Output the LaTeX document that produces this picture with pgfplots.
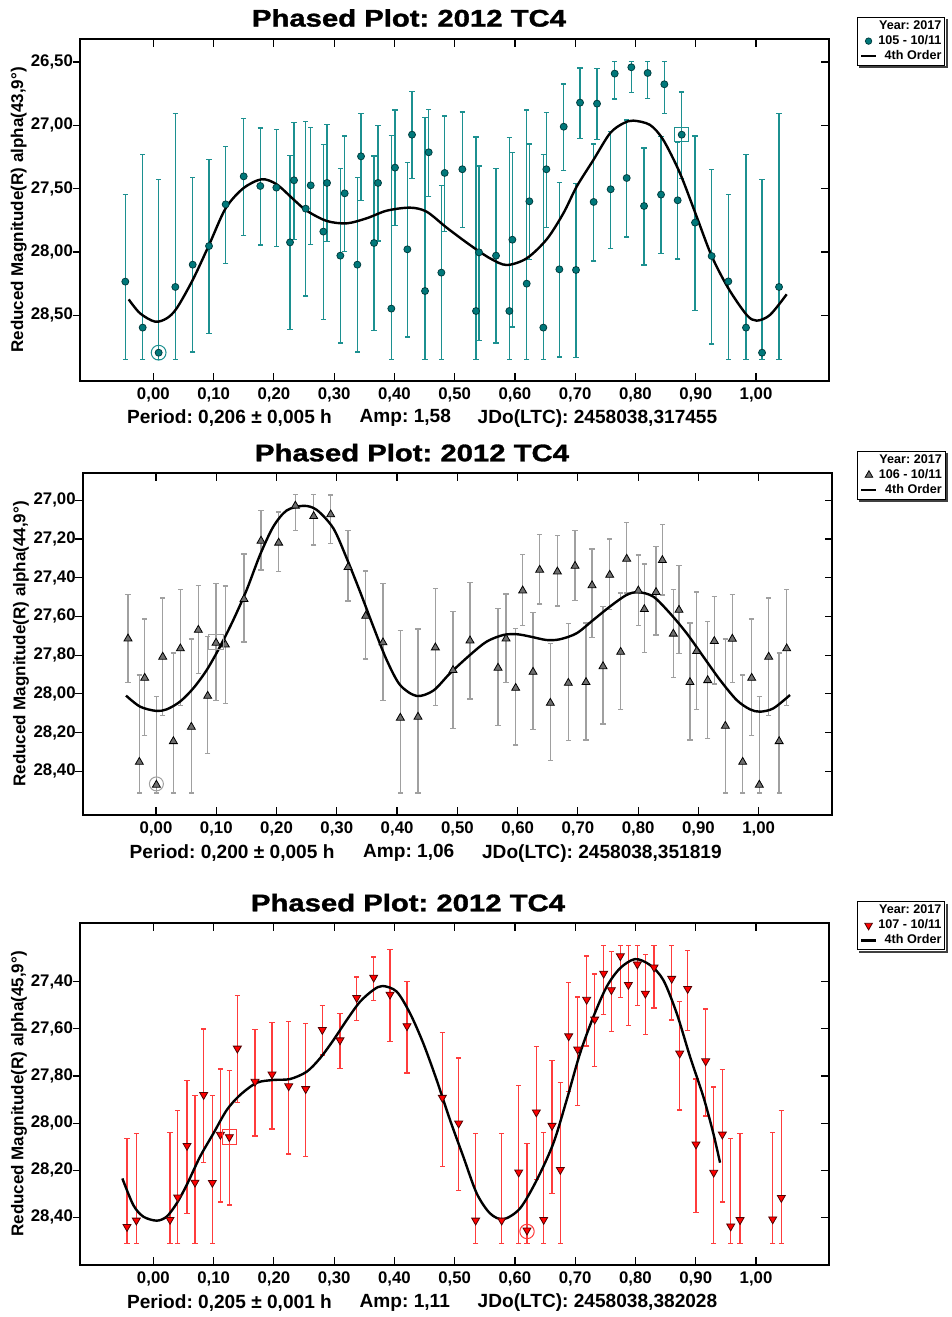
\documentclass[border=0pt]{standalone}
\usepackage{pgfplots}
\pgfplotsset{compat=1.18}
\usepackage{pgfplotstable}
\usepackage{graphicx}
\usepackage{fontspec}
\setmainfont{Liberation Sans}
\newfontfamily\titlefont{Liberation Sans}[BoldFeatures={FakeBold=1.3}]
\frenchspacing
\definecolor{tealM}{HTML}{00787A}
\definecolor{tealD}{HTML}{003F40}
\definecolor{tealE}{HTML}{1C9090}
\definecolor{grayM}{HTML}{6E6E6E}
\definecolor{grayE}{HTML}{A0A0A0}
\definecolor{redM}{HTML}{FF0000}
\definecolor{redD}{HTML}{500000}
\definecolor{redE}{HTML}{FF3C3C}

\pgfplotstableread{
x y t b
-0.0465 28.234 27.545 28.847
-0.0177 28.597 27.229 28.847
0.0088 28.795 27.426 28.847
0.0365 28.276 26.905 28.847
0.0653 28.100 27.413 28.789
0.0924 27.953 27.268 28.645
0.1200 27.624 27.166 28.089
0.1499 27.403 26.945 27.868
0.1775 27.479 27.021 27.945
0.2041 27.492 27.032 27.958
0.2268 27.924 27.237 28.613
0.2334 27.434 26.979 27.900
0.2528 27.658 26.971 28.347
0.2611 27.474 27.016 27.939
0.2821 27.839 27.153 28.532
0.2882 27.455 26.995 27.918
0.3103 28.029 27.342 28.718
0.3175 27.537 27.084 27.995
0.3385 28.100 27.411 28.789
0.3446 27.245 26.905 27.592
0.3662 27.929 27.242 28.621
0.3728 27.455 27.000 27.913
0.3949 28.447 27.079 28.847
0.4010 27.334 26.879 27.792
0.4215 27.979 27.292 28.671
0.4292 27.074 26.734 27.418
0.4508 28.308 26.937 28.847
0.4569 27.213 26.874 27.561
0.4779 28.163 27.476 28.847
0.4834 27.376 26.926 27.837
0.5127 27.347 26.895 27.805
0.5354 28.466 27.092 28.847
0.5404 28.003 27.321 28.700
0.5686 28.029 27.342 28.718
0.5907 28.466 27.095 28.847
0.5957 27.903 27.216 28.592
0.6195 28.250 26.879 28.847
0.6239 27.600 27.147 28.058
0.6471 28.597 27.229 28.847
0.6521 27.347 26.897 27.805
0.6737 28.137 27.450 28.829
0.6809 27.011 26.674 27.355
0.7013 28.142 27.458 28.834
0.7080 26.821 26.547 27.103
0.7306 27.605 27.147 28.071
0.7362 26.829 26.553 27.111
0.7588 27.505 27.050 27.971
0.7655 26.592 26.497 26.792
0.7854 27.416 26.958 27.882
0.7931 26.542 26.497 26.742
0.8142 27.637 27.179 28.103
0.8202 26.587 26.497 26.787
0.8424 27.547 27.089 28.013
0.8479 26.676 26.497 26.905
0.8700 27.592 27.137 28.055
0.8767 27.074 26.737 27.418
0.8988 27.768 27.084 28.461
0.9264 28.032 27.350 28.726
0.9541 28.232 27.545 28.847
0.9834 28.597 27.229 28.847
1.0100 28.795 27.426 28.847
1.0382 28.276 26.905 28.847
}\dataA

\pgfplotstableread{
x y
-0.0409 28.374
-0.0221 28.484
0.0028 28.550
0.0221 28.524
0.0387 28.445
0.0653 28.221
0.0924 27.945
0.1200 27.655
0.1493 27.497
0.1798 27.426
0.2046 27.466
0.2323 27.584
0.2544 27.674
0.2876 27.755
0.3208 27.774
0.3540 27.734
0.3872 27.674
0.4259 27.650
0.4535 27.682
0.4867 27.808
0.5254 27.945
0.5586 28.050
0.5863 28.103
0.6195 28.050
0.6527 27.900
0.6803 27.695
0.7024 27.484
0.7301 27.274
0.7577 27.063
0.7799 26.984
0.7965 26.963
0.8241 26.997
0.8462 27.116
0.8739 27.379
0.9015 27.721
0.9264 28.032
0.9541 28.287
0.9845 28.497
1.0011 28.542
1.0232 28.497
1.0509 28.334
}\fitA

\pgfplotstableread{
x y t b
-0.0465 27.715 27.486 27.940
-0.0277 28.352 27.902 28.512
-0.0188 27.918 27.613 28.216
0.0006 28.470 28.014 28.512
0.0111 27.809 27.506 28.111
0.0288 28.245 27.790 28.512
0.0404 27.766 27.460 28.060
0.0586 28.171 27.716 28.512
0.0702 27.670 27.440 27.894
0.0857 28.011 27.704 28.307
0.0996 27.737 27.429 28.035
0.1150 27.746 27.443 28.049
0.1460 27.511 27.277 27.732
0.1742 27.210 27.053 27.360
0.2035 27.220 27.060 27.368
0.2312 27.029 26.972 27.155
0.2616 27.083 26.972 27.232
0.2898 27.074 26.974 27.224
0.3186 27.346 27.157 27.520
0.3479 27.598 27.365 27.820
0.3766 27.735 27.430 28.035
0.4054 28.124 27.672 28.512
0.4347 28.119 27.666 28.512
0.4635 27.761 27.455 28.059
0.4928 27.878 27.575 28.180
0.5210 27.725 27.424 28.026
0.5675 27.866 27.558 28.164
0.5808 27.715 27.485 27.940
0.5968 27.970 27.663 28.264
0.6084 27.467 27.280 27.646
0.6256 27.887 27.579 28.183
0.6366 27.360 27.176 27.537
0.6543 28.047 27.740 28.345
0.6660 27.369 27.183 27.546
0.6842 27.944 27.637 28.242
0.6953 27.340 27.155 27.517
0.7135 27.940 27.635 28.238
0.7235 27.440 27.253 27.710
0.7417 27.858 27.549 28.155
0.7528 27.386 27.200 27.563
0.7710 27.784 27.480 28.080
0.7810 27.303 27.115 27.479
0.8003 27.467 27.282 27.647
0.8103 27.563 27.330 27.785
0.8297 27.475 27.240 27.696
0.8402 27.310 27.126 27.490
0.8584 27.690 27.460 27.916
0.8678 27.567 27.337 27.792
0.8860 27.940 27.634 28.238
0.8971 27.780 27.475 28.080
0.9154 27.930 27.627 28.230
0.9264 27.728 27.496 27.950
0.9447 28.166 27.716 28.512
0.9563 27.716 27.487 27.940
0.9735 28.352 27.902 28.512
0.9884 27.918 27.613 28.216
1.0011 28.470 28.014 28.512
1.0166 27.809 27.506 28.111
1.0340 28.245 27.790 28.512
1.0465 27.766 27.460 28.060
}\dataB

\pgfplotstableread{
x y
-0.0498 28.009
-0.0265 28.066
0.0000 28.088
0.0177 28.080
0.0398 28.040
0.0619 27.971
0.0841 27.877
0.1062 27.756
0.1283 27.618
0.1504 27.463
0.1726 27.282
0.1947 27.136
0.2168 27.053
0.2445 27.029
0.2666 27.050
0.2942 27.145
0.3164 27.300
0.3385 27.472
0.3606 27.653
0.3827 27.825
0.4049 27.954
0.4325 28.011
0.4602 27.983
0.4878 27.894
0.5210 27.799
0.5487 27.730
0.5763 27.696
0.5985 27.692
0.6206 27.704
0.6482 27.722
0.6704 27.718
0.6980 27.687
0.7257 27.618
0.7533 27.549
0.7810 27.489
0.8003 27.475
0.8252 27.498
0.8529 27.584
0.8805 27.687
0.9082 27.808
0.9358 27.928
0.9635 28.032
0.9856 28.080
1.0022 28.092
1.0243 28.075
1.0520 28.006
}\fitB

\pgfplotstableread{
x y t b
-0.0437 28.440 28.065 28.512
-0.0282 28.413 28.044 28.512
0.0277 28.410 28.039 28.512
0.0404 28.315 27.946 28.512
0.0559 28.096 27.819 28.383
0.0691 28.252 27.884 28.512
0.0835 27.880 27.601 28.167
0.0979 28.253 27.884 28.512
0.1112 28.049 27.771 28.335
0.1261 28.059 27.778 28.348
0.1394 27.683 27.459 27.913
0.1687 27.824 27.602 28.055
0.1969 27.793 27.573 28.025
0.2246 27.843 27.568 28.131
0.2528 27.855 27.577 28.141
0.2804 27.604 27.502 27.711
0.3097 27.648 27.536 27.768
0.3374 27.468 27.380 27.564
0.3656 27.382 27.295 27.479
0.3927 27.454 27.264 27.653
0.4209 27.588 27.400 27.788
0.4795 27.892 27.615 28.185
0.5066 28.001 27.724 28.287
0.5348 28.413 28.044 28.512
0.5780 28.413 28.044 28.512
0.6062 28.209 27.840 28.512
0.6200 28.455 28.086 28.512
0.6355 27.954 27.674 28.240
0.6477 28.410 28.039 28.512
0.6615 28.011 27.734 28.298
0.6753 28.198 27.827 28.512
0.6892 27.631 27.404 27.865
0.7041 27.687 27.464 27.925
0.7190 27.476 27.290 27.672
0.7323 27.560 27.367 27.761
0.7472 27.365 27.247 27.540
0.7600 27.435 27.271 27.611
0.7749 27.291 27.247 27.468
0.7882 27.413 27.247 27.587
0.8031 27.326 27.247 27.502
0.8164 27.450 27.285 27.623
0.8308 27.339 27.247 27.512
0.8601 27.387 27.247 27.563
0.8734 27.704 27.483 27.945
0.8866 27.430 27.268 27.607
0.9004 28.090 27.812 28.380
0.9165 27.737 27.516 27.970
0.9298 28.210 27.846 28.512
0.9441 28.048 27.772 28.335
0.9580 28.438 28.066 28.512
0.9735 28.411 28.044 28.512
1.0277 28.408 28.039 28.512
1.0420 28.317 27.946 28.512
}\dataC

\pgfplotstableread{
x y
-0.0514 28.235
-0.0332 28.348
-0.0166 28.397
0.0055 28.414
0.0221 28.397
0.0387 28.341
0.0553 28.263
0.0774 28.143
0.0996 28.044
0.1217 27.945
0.1438 27.881
0.1715 27.829
0.1991 27.817
0.2268 27.813
0.2544 27.782
0.2765 27.725
0.2987 27.648
0.3208 27.563
0.3429 27.485
0.3650 27.435
0.3805 27.418
0.4038 27.442
0.4259 27.534
0.4480 27.662
0.4701 27.817
0.4923 27.987
0.5144 28.143
0.5365 28.298
0.5586 28.383
0.5808 28.408
0.6084 28.362
0.6361 28.242
0.6637 28.086
0.6858 27.902
0.7080 27.704
0.7301 27.549
0.7522 27.421
0.7743 27.343
0.7992 27.304
0.8241 27.329
0.8462 27.393
0.8684 27.534
0.8905 27.718
0.9126 27.888
0.9292 28.044
0.9403 28.168
}\fitC

\pgfplotsset{
  panel/.style={
    scale only axis, width=374.35pt, height=170.7pt, anchor=south west,
    y dir=reverse, xmin=-0.1217, xmax=1.1206,
    xtick={0,0.1,0.2,0.3,0.4,0.5,0.6,0.7,0.8,0.9,1},
    tick align=inside, xtick pos=both, ytick pos=right, yticklabel pos=left,
    major tick length=3.7pt,
    tick style={black, line width=0.6pt},
    axis line style={black, line width=1pt},
    ticklabel style={font=\bfseries\fontsize{8.4}{10}\selectfont},
    /pgf/number format/.cd, fixed, fixed zerofill, precision=2, use comma, assume math mode=true,
    /pgfplots/.cd,
    ylabel style={font=\bfseries\fontsize{8.5}{10}\selectfont, at={(axis description cs:-0.0817,0.5)}, anchor=center},
    legend cell align=right,
    legend style={at={(axis description cs:1.1555,1.066)}, anchor=north east,
      font=\bfseries\fontsize{6.3}{7.5}\selectfont, draw=black, line width=0.5pt,
      inner xsep=1pt, inner ysep=1pt, row sep=0.2pt, column sep=0pt,
      nodes={inner sep=0.6pt}, fill=white},
  },
  lefttick/.style={
    scale only axis, width=374.35pt, height=170.7pt, anchor=south west,
    y dir=reverse, xmin=-0.1217, xmax=1.1206, xtick=\empty,
    axis line style={draw=none}, tick align=outside, ytick pos=left,
    yticklabels={}, major tick length=3.7pt, tick style={black, line width=0.6pt},
  },
  errs/.style={error bars/.cd, y dir=both, y explicit,
    error bar style={color=#1, line width=0.7pt},
    error mark options={rotate=90, mark size=1.3pt, color=#1, line width=0.7pt}},
  fitline/.style={legend image code/.code={\draw[black,line width=1.1pt](1pt,0pt)--(8.5pt,0pt);}},
}
\newcommand\tfont{\titlefont\bfseries\fontsize{12}{14}\selectfont}
\newcommand\bfont{\bfseries\fontsize{9.55}{11}\selectfont}
\newcommand\legshadow[1]{\draw[black!75, line width=1pt]
  ([xshift=0.75pt,yshift=-1.2pt]#1.north east) -- ([xshift=0.75pt,yshift=-0.75pt]#1.south east)
  -- ([xshift=1.2pt,yshift=-0.75pt]#1.south west);}

\begin{document}
\begin{tikzpicture}
\useasboundingbox (0,0) rectangle (476pt,658.5pt);

% ---------- Panel 1 ----------
\begin{axis}[panel, at={(40pt,468.15pt)}, ymin=26.321, ymax=29.016,
  ytick={26.5,27,27.5,28,28.5},
  ylabel={Reduced Magnitude(R) alpha(43,9°)},
  legend style={name=legA}]
\addlegendimage{empty legend}\addlegendentry{Year: 2017}
\addplot[forget plot, only marks, mark=*, mark size=1.75pt,
  mark options={fill=tealM, draw=tealD, line width=0.4pt}, errs=tealE]
  table[x=x, y=y, y error plus expr=\thisrow{b}-\thisrow{y}, y error minus expr=\thisrow{y}-\thisrow{t}] {\dataA};
\addlegendimage{legend image code/.code={\path[draw=none,fill=none] (0pt,-1pt) rectangle (8.5pt,1pt);
  \path plot[only marks, mark=*, mark size=1.6pt, mark options={fill=tealM, draw=tealD, line width=0.4pt}] coordinates {(4.75pt,0pt)};}}
\addlegendentry{105 - 10/11}
\addplot[black, line width=1.2pt, smooth, forget plot] table[x=x,y=y] {\fitA};
\addlegendimage{fitline}
\addlegendentry{4th Order}
\addplot[forget plot, only marks, mark=o, mark size=3.7pt, tealE, line width=0.5pt] coordinates {(0.0088,28.795)};
\addplot[forget plot, only marks, mark=square, mark size=3.6pt, tealE, line width=0.5pt] coordinates {(0.8767,27.074)};
\end{axis}
\begin{axis}[lefttick, at={(40pt,468.15pt)}, ymin=26.321, ymax=29.016, ytick={26.5,27,27.5,28,28.5}]
\end{axis}
\legshadow{legA}
\node at (204.5pt,649.5pt) {\scalebox{1.22}[1]{\tfont Phased Plot: 2012 TC4}};
\node[font=\bfont, anchor=west, inner sep=0pt] at (63.35pt,449.35pt) {Period: 0,206 ± 0,005 h};
\node[font=\bfont, anchor=west, inner sep=0pt] at (179.65pt,449.35pt) {Amp: 1,58};
\node[font=\bfont, anchor=west, inner sep=0pt] at (238.65pt,449.35pt) {JDo(LTC): 2458038,317455};

% ---------- Panel 2 ----------
\begin{axis}[panel, at={(41.35pt,251.15pt)}, width=374.65pt, ymin=26.861, ymax=28.624,
  xmin=-0.1217, xmax=1.1217,
  ytick={27,27.2,27.4,27.6,27.8,28,28.2,28.4},
  ylabel={Reduced Magnitude(R) alpha(44,9°)},
  ylabel style={at={(axis description cs:-0.0823,0.5)}},
  legend style={at={(axis description cs:1.1515,1.066)}, name=legB}]
\addlegendimage{empty legend}\addlegendentry{Year: 2017}
\addplot[forget plot, only marks, mark=triangle*, mark size=2.3pt,
  mark options={fill=grayM, draw=black, line width=0.4pt}, errs=grayE]
  table[x=x, y=y, y error plus expr=\thisrow{b}-\thisrow{y}, y error minus expr=\thisrow{y}-\thisrow{t}] {\dataB};
\addlegendimage{legend image code/.code={\path[draw=none,fill=none] (0pt,-1pt) rectangle (8.5pt,1pt);
  \path plot[only marks, mark=triangle*, mark size=2.2pt, mark options={fill=grayM, draw=black, line width=0.4pt}] coordinates {(4.75pt,0pt)};}}
\addlegendentry{106 - 10/11}
\addplot[black, line width=1.2pt, smooth, forget plot] table[x=x,y=y] {\fitB};
\addlegendimage{fitline}
\addlegendentry{4th Order}
\addplot[forget plot, only marks, mark=o, mark size=3.5pt, grayE, line width=0.5pt] coordinates {(0.0006,28.465)};
\addplot[forget plot, only marks, mark=square, mark size=3.6pt, grayE, line width=0.5pt] coordinates {(0.0996,27.733)};
\end{axis}
\begin{axis}[lefttick, at={(41.35pt,251.15pt)}, width=374.65pt, ymin=26.861, ymax=28.624,
  xmin=-0.1217, xmax=1.1217, ytick={27,27.2,27.4,27.6,27.8,28,28.2,28.4}]
\end{axis}
\legshadow{legB}
\node at (206pt,432.15pt) {\scalebox{1.22}[1]{\tfont Phased Plot: 2012 TC4}};
\node[font=\bfont, anchor=west, inner sep=0pt] at (64.65pt,231.85pt) {Period: 0,200 ± 0,005 h};
\node[font=\bfont, anchor=west, inner sep=0pt] at (181.35pt,231.85pt) {Amp: 1,06};
\node[font=\bfont, anchor=west, inner sep=0pt] at (240.85pt,231.85pt) {JDo(LTC): 2458038,351819};

% ---------- Panel 3 ----------
\begin{axis}[panel, at={(40pt,26.15pt)}, ymin=27.152, ymax=28.601,
  ytick={27.4,27.6,27.8,28,28.2,28.4},
  ylabel={Reduced Magnitude(R) alpha(45,9°)},
  ylabel style={at={(axis description cs:-0.0815,0.5)}},
  legend style={at={(axis description cs:1.1555,1.065)}, name=legC}]
\addlegendimage{empty legend}\addlegendentry{Year: 2017}
\addplot[forget plot, only marks, mark=triangle*, mark size=2.3pt,
  mark options={fill=redM, draw=redD, line width=0.4pt, rotate=180}, errs=redE]
  table[x=x, y=y, y error plus expr=\thisrow{b}-\thisrow{y}, y error minus expr=\thisrow{y}-\thisrow{t}] {\dataC};
\addlegendimage{legend image code/.code={\path[draw=none,fill=none] (0pt,-1pt) rectangle (8.5pt,1pt);
  \path plot[only marks, mark=triangle*, mark size=2.2pt, mark options={fill=redM, draw=redD, line width=0.4pt, rotate=180}] coordinates {(4.75pt,0pt)};}}
\addlegendentry{107 - 10/11}
\addplot[black, line width=1.2pt, smooth, forget plot] table[x=x,y=y] {\fitC};
\addlegendimage{fitline}
\addlegendentry{4th Order}
\addplot[forget plot, only marks, mark=o, mark size=3.6pt, redE, line width=0.5pt] coordinates {(0.6200,28.46)};
\addplot[forget plot, only marks, mark=square, mark size=3.6pt, redE, line width=0.5pt] coordinates {(0.1261,28.059)};
\end{axis}
\begin{axis}[lefttick, at={(40pt,26.15pt)}, ymin=27.152, ymax=28.601, ytick={27.4,27.6,27.8,28,28.2,28.4}]
\end{axis}
\legshadow{legC}
\node at (204pt,207.15pt) {\scalebox{1.22}[1]{\tfont Phased Plot: 2012 TC4}};
\node[font=\bfont, anchor=west, inner sep=0pt] at (63.35pt,7.15pt) {Period: 0,205 ± 0,001 h};
\node[font=\bfont, anchor=west, inner sep=0pt] at (179.65pt,7.15pt) {Amp: 1,11};
\node[font=\bfont, anchor=west, inner sep=0pt] at (238.65pt,7.15pt) {JDo(LTC): 2458038,382028};
\end{tikzpicture}
\end{document}
